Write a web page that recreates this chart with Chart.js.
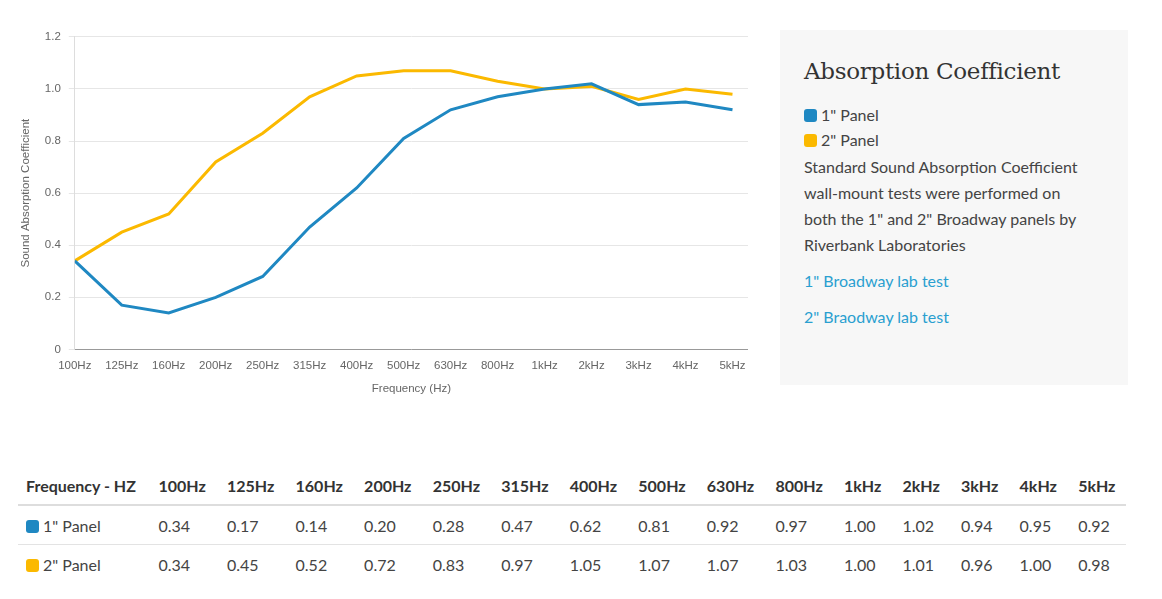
<!DOCTYPE html>
<html>
<head>
<meta charset="utf-8">
<script src="https://cdn.jsdelivr.net/npm/chart.js@4/dist/chart.umd.min.js"></script>
<style>
    body { margin: 0; background: #fff; font-family: Lato, sans-serif; color: #444; }
    .chart-wrap { position: absolute; left: 15px; top: 22px; width: 733px; height: 378px; }
    .side { position: absolute; left: 780px; top: 30px; width: 285px; height: 315px; background: #f7f7f7; padding: 20px 39px 20px 24px; }
    .side h2 { font-family: "DejaVu Serif", "Liberation Serif", serif; font-weight: normal; font-size: 23px; color: #333; margin: 8px 0 18px 0; letter-spacing: -0.3px; }
    .key { font-size: 16px; line-height: 25px; color: #444; }
    .sw { display: inline-block; width: 13px; height: 13px; border-radius: 3px; vertical-align: -1px; margin-right: 4px; }
    .side p { font-size: 16px; line-height: 26px; margin: 2px 0 10px 0; color: #444; }
    .side a { display: block; font-size: 16px; color: #2a9fd0; text-decoration: none; margin-top: 10px; line-height: 26px; }
    table { position: absolute; left: 18px; top: 468px; border-collapse: collapse; font-size: 16px; }
    th { text-align: left; font-weight: bold; color: #333; padding: 8px 10.6px 9px 10.6px; border-bottom: 2px solid #ddd; }
    td { color: #444; padding: 10px 10.6px 9px 10.6px; border-bottom: 1px solid #e3e3e3; }
    tr:last-child td { border-bottom: none; }
    th:first-child, td:first-child { padding-left: 8px; padding-right: 12px; }
</style>
</head>
<body>
<div class="chart-wrap"><canvas id="absChart"></canvas></div>

<div class="side">
    <h2>Absorption Coefficient</h2>
    <div class="key"><span class="sw" style="background:#1f88c2"></span>1" Panel</div>
    <div class="key"><span class="sw" style="background:#fbb900"></span>2" Panel</div>
    <p>Standard Sound Absorption Coefficient wall-mount tests were performed on both the 1" and 2" Broadway panels by Riverbank Laboratories</p>
    <a href="#">1" Broadway lab test</a>
    <a href="#">2" Braodway lab test</a>
</div>

<table id="dataTable"></table>

<script>
// frequency bands and measured coefficients
const bands = ['100Hz', '125Hz', '160Hz', '200Hz', '250Hz', '315Hz', '400Hz', '500Hz',
    '630Hz', '800Hz', '1kHz', '2kHz', '3kHz', '4kHz', '5kHz'];
const panel1 = [0.34, 0.17, 0.14, 0.20, 0.28, 0.47, 0.62, 0.81, 0.92, 0.97, 1.00, 1.02, 0.94, 0.95, 0.92];
const panel2 = [0.34, 0.45, 0.52, 0.72, 0.83, 0.97, 1.05, 1.07, 1.07, 1.03, 1.00, 1.01, 0.96, 1.00, 0.98];
const yTicks = ['0', '0.2', '0.4', '0.6', '0.8', '1.0', '1.2'];

const seriesNames = ['1" Panel', '2" Panel'];
const seriesColors = ['#1f88c2', '#fbb900'];

function toPoints(values) {
    return values.map((v, i) => ({ x: i, y: v }));
}

function initializeChart() {
    const ctx = document.getElementById('absChart');
    const axisFont = { family: "'Liberation Sans', Arial, sans-serif", size: 11.5 };
    new Chart(ctx, {
        type: 'line',
        data: {
            datasets: [panel1, panel2].map((vals, i) => ({
                label: seriesNames[i],
                data: toPoints(vals),
                borderColor: seriesColors[i],
                backgroundColor: seriesColors[i],
                borderWidth: 3,
                pointRadius: 0,
                tension: 0,
                fill: false
            }))
        },
        options: {
            responsive: true,
            maintainAspectRatio: false,
            animation: false,
            plugins: {
                legend: { display: false },
                tooltip: { enabled: false }
            },
            scales: {
                x: {
                    type: 'linear',
                    min: 0,
                    max: 14.33,
                    grid: { display: false },
                    border: { color: '#999' },
                    ticks: {
                        stepSize: 1,
                        maxTicksLimit: 20,
                        includeBounds: false,
                        autoSkip: false,
                        maxRotation: 0,
                        padding: 2,
                        color: '#666',
                        font: axisFont,
                        callback: function (value) {
                            return bands[value] || '';
                        }
                    },
                    title: {
                        display: true,
                        text: 'Frequency (Hz)',
                        color: '#666',
                        padding: { top: 7, bottom: 4 },
                        font: axisFont
                    }
                },
                y: {
                    min: 0,
                    max: 1.2,
                    grid: { color: '#e6e6e6', tickLength: 6 },
                    border: { color: '#ddd' },
                    ticks: {
                        stepSize: 0.2,
                        color: '#666',
                        padding: 8,
                        font: axisFont,
                        callback: function (value) {
                            return yTicks[Math.round(value / 0.2)];
                        }
                    },
                    title: {
                        display: true,
                        text: 'Sound Absorption Coefficient',
                        color: '#666',
                        font: axisFont
                    }
                }
            }
        }
    });
}

// build the values table underneath
function buildTable() {
    const table = document.getElementById('dataTable');
    let html = '<tr><th>Frequency - HZ</th>' + bands.map(b => '<th>' + b + '</th>').join('') + '</tr>';
    [panel1, panel2].forEach((vals, i) => {
        html += '<tr><td><span class="sw" style="background:' + seriesColors[i] + '"></span>' + seriesNames[i] + '</td>' +
            vals.map(v => '<td>' + v.toFixed(2) + '</td>').join('') + '</tr>';
    });
    table.innerHTML = html;
}

initializeChart();
buildTable();
</script>
</body>
</html>
